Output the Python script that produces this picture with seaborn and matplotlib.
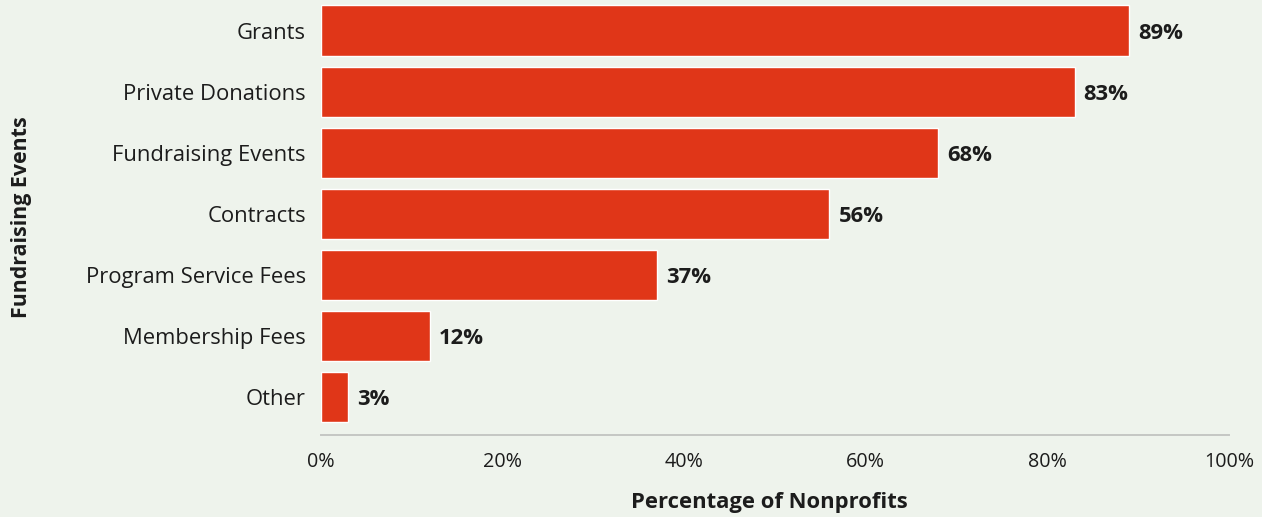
import matplotlib
matplotlib.use("Agg")
import matplotlib.pyplot as plt
import seaborn as sns
import pandas as pd
from matplotlib.ticker import PercentFormatter

categories = ["Grants", "Private Donations", "Fundraising Events", "Contracts",
              "Program Service Fees", "Membership Fees", "Other"]
percentages = [89, 83, 68, 56, 37, 12, 3]
x_ticks = [0, 20, 40, 60, 80, 100]

df = pd.DataFrame({"source": categories, "pct": percentages})

BG = "#eef3ec"
BAR = "#e03618"
TEXT = "#1c1c1c"

sns.set_theme(style="white")
plt.rcParams["font.family"] = ["Open Sans", "DejaVu Sans"]

fig = plt.figure(figsize=(12.62, 5.17), dpi=100, facecolor=BG)
ax = fig.add_axes([0.2544, 0.1586, 0.7194, 0.8414])
ax.set_facecolor(BG)

sns.barplot(data=df, x="pct", y="source", order=categories, color=BAR,
            saturation=1, width=0.82, ax=ax)

ax.set_xlim(0, 100)
ax.set_ylim(6.62, -0.5)
ax.set_xticks(x_ticks)
ax.xaxis.set_major_formatter(PercentFormatter(decimals=0))

# value labels just past the end of each bar
for i, v in enumerate(percentages):
    ax.annotate(f"{v}%", xy=(v, i), xytext=(6.5, -2), textcoords="offset points",
                va="center", ha="left", fontsize=15.8, fontweight="bold",
                color=TEXT)

for side in ["top", "right", "left"]:
    ax.spines[side].set_visible(False)
ax.spines["bottom"].set_color("#c4c6c3")
ax.spines["bottom"].set_linewidth(1.4)

ax.tick_params(axis="y", length=0, pad=11, labelsize=15.8, labelcolor=TEXT)
ax.tick_params(axis="x", length=0, pad=12, labelsize=14.2, labelcolor=TEXT)

ax.set_xlabel("Percentage of Nonprofits", fontsize=15.8, fontweight="bold",
              color=TEXT)
ax.xaxis.set_label_coords(0.4935, -0.13)
ax.set_ylabel("Fundraising Events", fontsize=15.4, fontweight="bold",
              color=TEXT)
ax.yaxis.set_label_coords(-0.318, 0.5)

fig.savefig("out.png", dpi=100, facecolor=BG)
